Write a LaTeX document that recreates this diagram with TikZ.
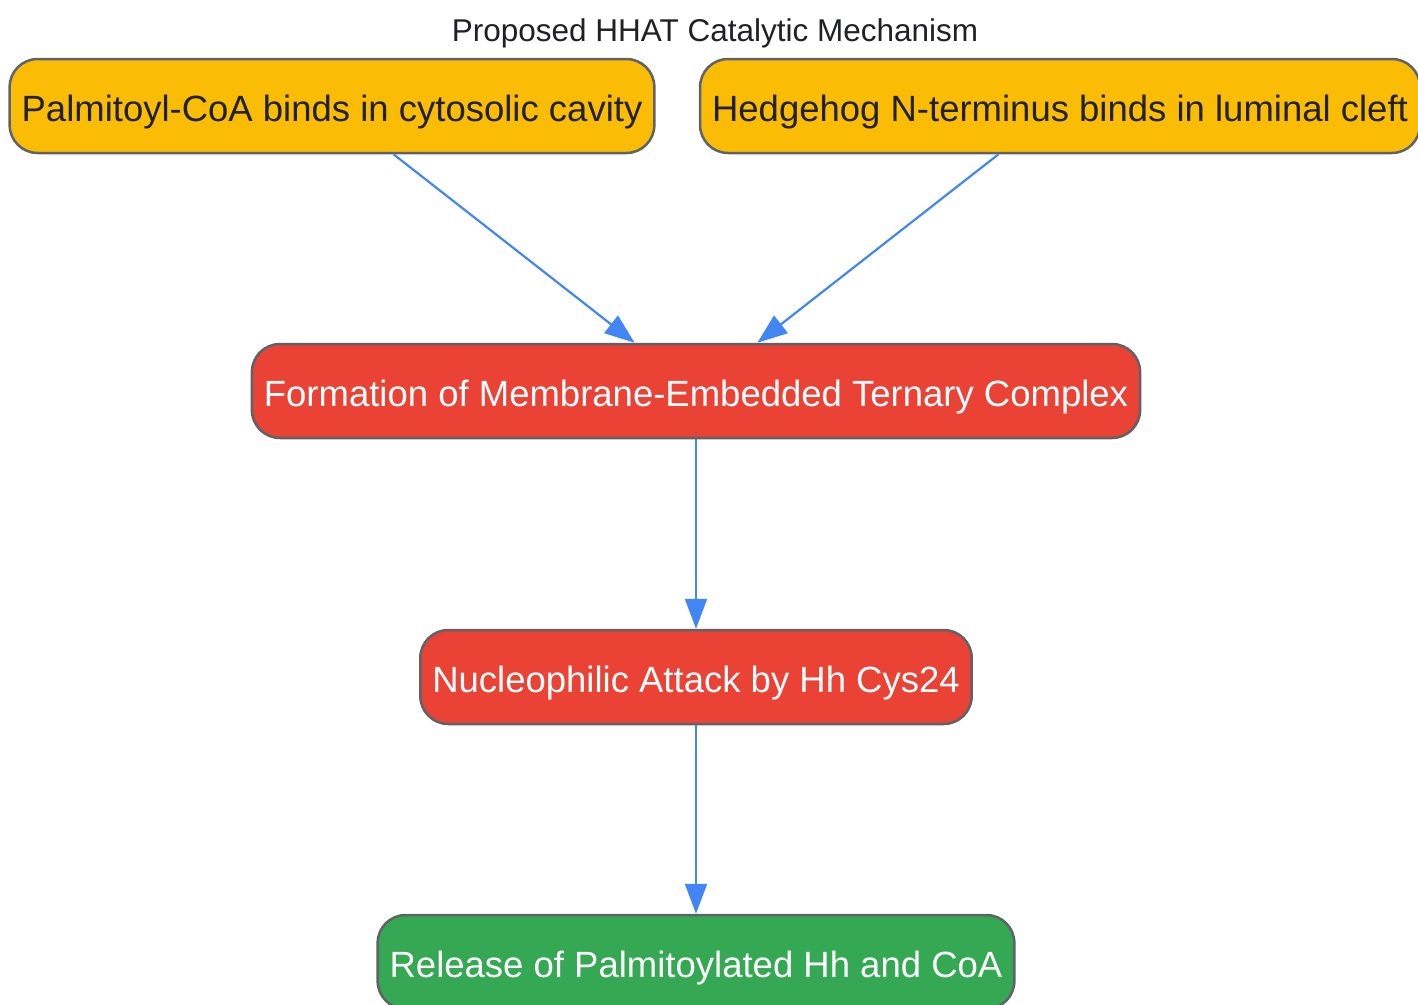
\documentclass[tikz,border=0pt]{standalone}
\usepackage{fontspec}
\setmainfont{Liberation Sans}
\usetikzlibrary{arrows.meta}
\definecolor{hhyellow}{HTML}{FBBC05}
\definecolor{hhred}{HTML}{EA4335}
\definecolor{hhgreen}{HTML}{34A853}
\definecolor{hhblue}{HTML}{4285F4}
\definecolor{hhgray}{HTML}{5F6368}
\definecolor{hhtext}{HTML}{202124}

\begin{document}
\begin{tikzpicture}[x=1pt, y=-1pt,
	stepnode/.style={draw=hhgray, line width=2.5pt, rounded corners=28pt,
		minimum height=94pt, inner xsep=12pt, text height=30pt, text depth=0pt,
		font=\fontsize{36.5}{44}\selectfont},
	flow/.style={color=hhblue, line width=2.2pt, -{Triangle[length=30pt,width=22pt]}}]
	\useasboundingbox (0,0) rectangle (1418,1004);
	\node[text=hhtext, font=\fontsize{31.5}{38}\selectfont] (title) at (715,33) {Proposed HHAT Catalytic Mechanism};
	\node[stepnode, fill=hhyellow, text=hhtext] (palm) at (332,106) {Palmitoyl-CoA binds in cytosolic cavity};
	\node[stepnode, fill=hhyellow, text=hhtext] (hhnt) at (1060,106) {Hedgehog N-terminus binds in luminal cleft};
	\node[stepnode, fill=hhred, text=white] (form) at (696,391) {Formation of Membrane-Embedded Ternary Complex};
	\node[stepnode, fill=hhred, text=white] (nuc) at (696,677) {Nucleophilic Attack by Hh Cys24};
	\node[stepnode, fill=hhgreen, text=white] (rel) at (696,962) {Release of Palmitoylated Hh and CoA};
	\path[flow]
	(palm) edge[flow] (form)
	(hhnt) edge[flow] (form)
	(form) edge[flow] (nuc)
	(nuc) edge[flow] (rel);
\end{tikzpicture}
\end{document}
